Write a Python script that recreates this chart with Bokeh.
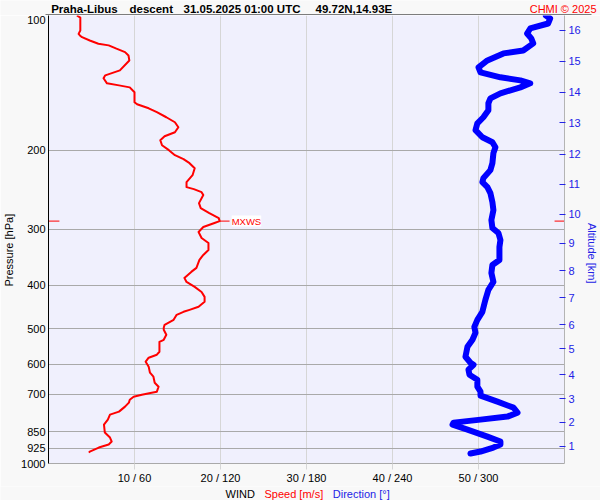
from bokeh.plotting import figure
from bokeh.layouts import column
from bokeh.models import Range1d, LogAxis, FixedTicker, Label, PrintfTickFormatter
from bokeh.core.properties import value
from bokeh.embed import file_html
from bokeh.resources import INLINE

# ---------------- data ----------------
speed_p = [100.0, 101.1, 108.0, 109.9, 110.8, 111.8, 113.7, 115.6, 116.6, 118.6, 120.7, 122.8, 126.0,
           132.6, 136.0, 138.1, 141.7, 143.2, 144.7, 148.4, 156.2, 157.8, 161.1,
           164.4, 168.7, 173.1, 177.6, 182.2, 186.0, 189.8, 194.8, 199.8, 205.0,
           209.3, 213.6, 219.2, 227.2, 235.5, 241.6, 244.1, 247.9, 251.7, 262.3,
           269.1, 276.1, 283.3, 287.7, 290.6, 296.6, 304.3, 313.8, 322.0, 333.8,
           342.3, 351.3, 365.9, 373.5, 385.2, 393.3, 403.5, 414.2, 424.7, 435.6,
           446.9, 454.0, 458.6, 465.7, 477.9, 490.2, 497.9, 503.0, 516.1, 529.5,
           535.0, 563.0, 571.7, 580.6, 592.6, 608.1, 627.1, 640.1, 660.1, 673.8,
           691.3, 694.9, 702.1, 709.3, 720.3, 731.4, 746.6, 766.0, 777.9, 798.1,
           818.9, 853.1, 875.3, 893.4, 907.2, 921.3, 940.4, 945.3]
speed_ms = [3.3, 3.7, 3.7, 3.5, 3.65, 3.9, 4.8, 5.8, 7.0, 7.9, 8.9, 9.3, 9.4,
            8.3, 6.6, 6.4, 6.8, 8.2, 9.45, 10.0, 10.0, 10.3, 11.65,
            12.6, 13.7, 14.7, 15.1, 14.7, 13.5, 13.0, 13.2, 14.0, 14.7,
            15.7, 16.4, 17.0, 16.75, 16.05, 16.05, 16.9, 17.8, 18.0, 17.5,
            17.7, 18.7, 19.8, 19.9, 19.3, 18.0, 17.45, 17.8, 18.6, 18.6,
            18.0, 17.55, 17.2, 16.6, 15.8, 16.05, 17.0, 17.8, 18.15, 18.15,
            17.45, 16.4, 15.7, 14.9, 14.55, 13.5, 13.4, 13.4, 13.7, 13.4,
            12.9, 12.9, 12.6, 11.65, 11.3, 11.65, 11.8, 12.2, 12.35, 12.8,
            12.6, 12.0, 10.85, 9.9, 9.45, 9.35, 8.9, 8.2, 7.15, 6.9,
            6.45, 6.55, 7.15, 7.35, 7.0, 5.85, 4.8, 4.7]

dir_p = [100.0, 101.5, 104.2, 106.9, 109.7, 112.5, 115.4, 119.7, 121.5, 126.0,
         130.5, 133.9, 137.4, 139.6, 141.7, 144.7, 149.2, 153.1, 157.0, 162.7,
         168.7, 174.0, 180.3, 187.0, 191.8, 196.8, 202.9, 213.6, 221.4, 230.7,
         235.5, 241.6, 249.2, 260.9, 271.8, 286.1, 298.1, 305.9, 317.1, 328.7,
         351.3, 360.5, 375.6, 393.3, 409.7, 431.3, 458.6, 477.9, 495.4, 510.8,
         529.5, 548.8, 577.7, 595.8, 602.0, 617.6, 633.7, 650.1, 673.8, 691.3,
         705.6, 727.7, 750.4, 769.9, 785.8, 798.1, 810.5, 818.9, 840.1, 870.9,
         893.4, 907.2, 921.3, 940.4, 950.1]
dir_deg = [347.0, 350.0, 348.6, 336.1, 333.9, 336.8, 338.2, 331.2, 317.4, 306.2,
           300.0, 301.4, 315.3, 329.2, 336.1, 329.2, 315.3, 308.3, 306.9, 306.9,
           303.4, 299.2, 297.9, 302.7, 309.7, 311.8, 310.4, 309.7, 308.3, 303.4,
           302.7, 306.2, 308.3, 309.7, 310.4, 309.0, 309.7, 313.9, 315.3, 314.6,
           314.6, 309.7, 309.0, 310.4, 306.9, 304.8, 302.7, 299.2, 297.1, 297.9,
           295.8, 292.3, 290.9, 294.4, 296.5, 293.0, 293.7, 299.2, 299.2, 301.4,
           301.4, 313.2, 324.4, 327.2, 320.2, 301.4, 282.6, 281.9, 292.3, 306.2,
           315.3, 315.3, 310.4, 301.4, 294.4]

pressure_ticks = [100, 200, 300, 400, 500, 600, 700, 850, 925, 1000]
pressure_grid = [200, 300, 400, 500, 600, 700, 850, 925]
wind_ticks = [10, 20, 30, 40, 50]
wind_labels = ["10 / 60", "20 / 120", "30 / 180", "40 / 240", "50 / 300"]
alt_km = [1, 2, 3, 4, 5, 6, 7, 8, 9, 10, 11, 12, 13, 14, 15, 16]
alt_p = [915.1, 809.1, 716.5, 633.7, 554.4, 490.2, 426.3, 371.7, 322.0, 277.5,
         237.9, 204.0, 173.7, 148.2, 126.6, 108.0]
mxws_p = 287.7
mxws_speed = 19.9

title_parts = ["Praha-Libus", "descent", "31.05.2025 01:00 UTC", "49.72N,14.93E"]
credit = "CHMI \u00a9 2025"
legend_parts = ["WIND", "Speed [m/s]", "Direction [\u00b0]"]

FONT = "Liberation Sans"
RED = "#ff0000"
BLUE = "#0000ff"
LBLUE = "#2323e6"
PAGE_BG = "#f8f8f8"
NB = "\u00a0"

# ---------------- layout sizes ----------------
W = 600
TOP_H = 15           # title strip
FRAME_H = 449
BL, BR, BB = 45, 35, 22
MAIN_H = FRAME_H + BB
BOT_H = 500 - TOP_H - MAIN_H
FW = W - BL - BR


def strip(h):
    s = figure(width=W, height=h, x_range=Range1d(0, W), y_range=Range1d(h, 0),
               title=None, output_backend="svg", toolbar_location=None,
               x_axis_location=None, y_axis_location=None,
               min_border=0, background_fill_color=PAGE_BG, border_fill_color=PAGE_BG,
               frame_align=False)
    s.outline_line_color = None
    s.xgrid.visible = False
    s.ygrid.visible = False
    return s


# ---------------- title strip ----------------
top = strip(TOP_H)
top.text(x=[50.7, 129, 183, 315], y=[8.5] * 4, text=title_parts,
         text_font=value(FONT), text_font_size="11.5px", text_font_style="bold",
         text_color="black", text_baseline="alphabetic")
top.text(x=[596], y=[8.5], text=[credit], text_font=value(FONT), text_font_size="11px",
         text_color=RED, text_align="right", text_baseline="alphabetic")
top.segment(x0=[BL], x1=[591], y0=[TOP_H - 0.5], y1=[TOP_H - 0.5], line_color="black", line_width=1)

# ---------------- main chart ----------------
p = figure(width=W, height=MAIN_H, y_axis_type="log",
           x_range=Range1d(0, 60), y_range=Range1d(1000, 100),
           title=None, output_backend="svg", toolbar_location=None,
           min_border_left=BL, min_border_right=BR, min_border_top=0, min_border_bottom=BB,
           background_fill_color="#f0f0fd", border_fill_color=PAGE_BG, frame_align=False)
p.outline_line_color = None
p.extra_x_ranges = {"dir": Range1d(0, 360)}

x0, x1 = p.x_range.start, p.x_range.end
ppu = FW / (x1 - x0)          # pixels per speed unit

# grids
p.ygrid.ticker = FixedTicker(ticks=pressure_grid)
p.ygrid.grid_line_color = "#a9a9a9"
p.ygrid.minor_grid_line_color = None
p.xgrid.ticker = FixedTicker(ticks=wind_ticks)
p.xgrid.grid_line_color = "#d6d6d6"

# left pressure axis
lax = p.left[0]
lax.ticker = FixedTicker(ticks=pressure_ticks)
lax.formatter = PrintfTickFormatter(format="%d")
lax.major_tick_in = 0
lax.major_tick_out = 0
lax.minor_tick_in = 0
lax.minor_tick_out = 0
lax.axis_line_color = "black"
lax.major_label_text_font = FONT
lax.major_label_text_font_size = "11px"
lax.major_label_text_color = "black"
lax.major_label_standoff = 3
lax.axis_label = "Pressure [hPa]" + NB * 7      # padding shifts the centred title down
lax.axis_label_text_font = FONT
lax.axis_label_text_font_size = "11px"
lax.axis_label_text_font_style = "normal"
lax.axis_label_text_color = "black"
lax.axis_label_standoff = 3

# bottom wind axis
bax = p.below[0]
bax.ticker = FixedTicker(ticks=wind_ticks)
bax.major_label_overrides = {t: l for t, l in zip(wind_ticks, wind_labels)}
bax.major_tick_in = 0
bax.major_tick_out = 6
bax.major_tick_line_color = "#d6d6d6"
bax.minor_tick_line_color = None
bax.axis_line_color = "#a9a9a9"
bax.major_label_text_font = FONT
bax.major_label_text_font_size = "11px"
bax.major_label_text_color = "black"
bax.major_label_standoff = 2

# right altitude axis
rax = LogAxis(ticker=FixedTicker(ticks=alt_p),
              major_label_overrides={pp: str(k) for pp, k in zip(alt_p, alt_km)})
rax.major_tick_in = 5
rax.major_tick_out = 1
rax.major_tick_line_color = LBLUE
rax.minor_tick_line_color = None
rax.axis_line_color = "#b4b4b4"
rax.major_label_text_font = FONT
rax.major_label_text_font_size = "11px"
rax.major_label_text_color = LBLUE
rax.major_label_standoff = 3
rax.axis_label = NB * 9 + "Altitude [km]"       # padding shifts the centred title down
rax.axis_label_text_font = FONT
rax.axis_label_text_font_size = "11px"
rax.axis_label_text_font_style = "normal"
rax.axis_label_text_color = LBLUE
rax.axis_label_standoff = 2
p.add_layout(rax, "right")

# curves
p.line(dir_deg, dir_p, x_range_name="dir", line_color=BLUE, line_width=6,
       line_cap="round", line_join="round")
p.line(speed_ms, speed_p, line_color=RED, line_width=2, line_join="round")

# MXWS marker
p.segment(x0=[x0], x1=[x0 + 11 / ppu], y0=[mxws_p], y1=[mxws_p], line_color=RED, line_width=1)
p.segment(x0=[x1 - 10 / ppu], x1=[x1], y0=[mxws_p], y1=[mxws_p], line_color=RED, line_width=1)
p.segment(x0=[mxws_speed], x1=[mxws_speed + 10 / ppu], y0=[mxws_p], y1=[mxws_p],
          line_color=RED, line_width=1)
p.add_layout(Label(x=mxws_speed, y=mxws_p, x_offset=12, text="MXWS", text_color=RED,
                   text_font=FONT, text_font_size="9.5px", text_baseline="middle",
                   background_fill_color="white"))

# ---------------- bottom legend strip ----------------
bot = strip(BOT_H)
bot.text(x=[225, 264, 332.3], y=[7.5] * 3, text=legend_parts,
         text_font=value(FONT), text_font_size="11px",
         text_color=["black", RED, LBLUE], text_baseline="alphabetic")

layout = column(top, p, bot, spacing=0)
open("out.html", "w").write(file_html(layout, INLINE))
